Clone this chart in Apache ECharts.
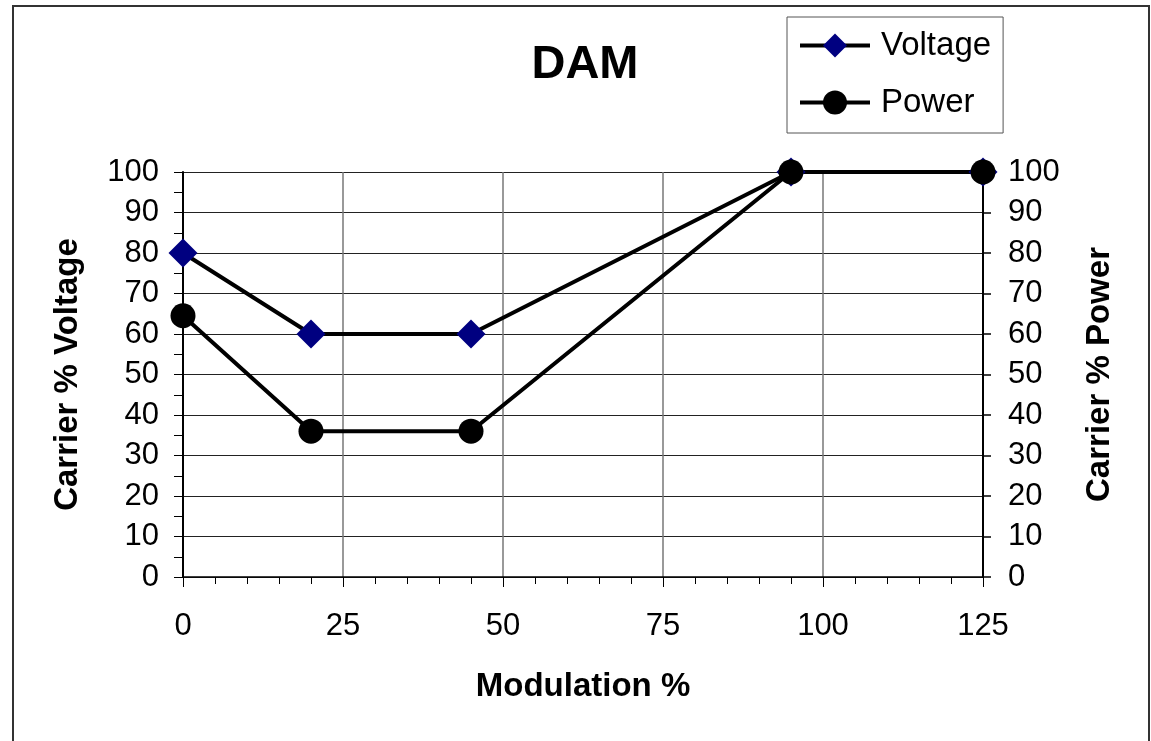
<!DOCTYPE html>
<html>
<head>
<meta charset="utf-8">
<script src="https://cdn.jsdelivr.net/npm/echarts@6/dist/echarts.min.js"></script>
<style>
  html, body { margin: 0; padding: 0; background: #fff; }
  #chart { width: 1151px; height: 741px; }
</style>
</head>
<body>
<div id="chart"></div>
<script>
// modulation % on the x axis
var modulation = [0, 20, 45, 95, 125]
// carrier % values
var voltage = [80, 60, 60, 100, 100]
var power = [64.5, 36, 36, 100, 100]
var xTicks = [0, 25, 50, 75, 100, 125]

var font = 'Arial, "Liberation Sans", sans-serif'

function pairs (xs, ys) {
  return xs.map(function (x, i) { return [x, ys[i]] })
}

var myChart = echarts.init(document.getElementById('chart'))
var option = {
  animation: false,
  backgroundColor: '#fff',
  graphic: [
    {
      type: 'rect',
      shape: { x: 13, y: 6, width: 1136, height: 800 },
      style: { fill: 'none', stroke: '#333', lineWidth: 2 },
      silent: true
    }
  ],
  title: {
    text: 'DAM',
    left: 580,
    textAlign: 'center',
    top: 37,
    textStyle: { fontFamily: font, fontSize: 47, fontWeight: 'bold', color: '#000' }
  },
  legend: {
    left: 787,
    top: 17,
    width: 216,
    orient: 'vertical',
    padding: [12, 12, 14, 11],
    itemWidth: 70,
    itemHeight: 30,
    itemGap: 24,
    borderColor: '#555',
    borderWidth: 1,
    lineStyle: { width: 4, color: '#000' },
    textStyle: { fontFamily: font, fontSize: 33, color: '#000', padding: [0, 0, 0, 6] },
    data: ['Voltage', 'Power']
  },
  grid: {
    left: 183,
    right: 168,
    top: 172,
    bottom: 164
  },
  xAxis: {
    type: 'value',
    min: 0,
    max: 125,
    interval: 25,
    name: 'Modulation %',
    nameLocation: 'middle',
    nameGap: 93,
    nameTextStyle: { fontFamily: font, fontSize: 33, fontWeight: 'bold', color: '#000' },
    axisLine: { lineStyle: { color: '#000', width: 1.5 } },
    axisTick: { show: true, length: 10, lineStyle: { color: '#000' } },
    minorTick: { show: true, splitNumber: 5, length: 7, lineStyle: { color: '#000' } },
    axisLabel: {
      margin: 34,
      fontFamily: font,
      fontSize: 31,
      color: '#000',
      formatter: function (v) { return xTicks.indexOf(v) >= 0 ? String(v) : '' }
    },
    splitLine: { show: true, lineStyle: { color: '#777', width: 1.5 } }
  },
  yAxis: [
    {
      type: 'value',
      min: 0,
      max: 100,
      interval: 10,
      position: 'left',
      name: 'Carrier % Voltage',
      nameLocation: 'middle',
      nameGap: 99,
      nameRotate: 90,
      nameTextStyle: { fontFamily: font, fontSize: 33, fontWeight: 'bold', color: '#000' },
      axisLine: { show: true, lineStyle: { color: '#000', width: 2 } },
      axisTick: { show: true, length: 9, lineStyle: { color: '#000' } },
      minorTick: { show: true, splitNumber: 2, length: 9, lineStyle: { color: '#000' } },
      axisLabel: { margin: 24, fontFamily: font, fontSize: 31, color: '#000' },
      splitLine: { show: true, lineStyle: { color: '#222', width: 1 } }
    },
    {
      type: 'value',
      min: 0,
      max: 100,
      interval: 10,
      position: 'right',
      name: 'Carrier % Power',
      nameLocation: 'middle',
      nameGap: 100,
      nameRotate: 90,
      nameTextStyle: { fontFamily: font, fontSize: 33, fontWeight: 'bold', color: '#000' },
      axisLine: { show: true, lineStyle: { color: '#000', width: 2 } },
      axisTick: { show: true, length: 8, lineStyle: { color: '#000', width: 1.5 } },
      axisLabel: { margin: 25, fontFamily: font, fontSize: 31, color: '#000' },
      splitLine: { show: false }
    }
  ],
  series: [
    {
      name: 'Voltage',
      type: 'line',
      yAxisIndex: 0,
      symbol: 'diamond',
      symbolSize: 29,
      lineStyle: { color: '#000', width: 4 },
      itemStyle: { color: '#000080' },
      data: pairs(modulation, voltage)
    },
    {
      name: 'Power',
      type: 'line',
      yAxisIndex: 1,
      symbol: 'circle',
      symbolSize: 25,
      lineStyle: { color: '#000', width: 4 },
      itemStyle: { color: '#000' },
      data: pairs(modulation, power)
    }
  ]
}
myChart.setOption(option)
</script>
</body>
</html>
